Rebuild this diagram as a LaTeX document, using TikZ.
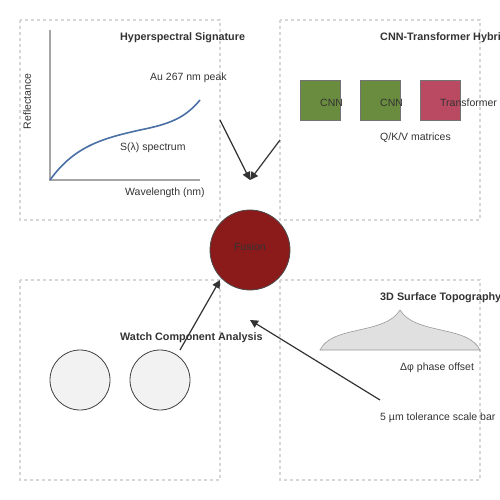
\documentclass[tikz,border=0pt]{standalone}
\usepackage{fontspec}
\setmainfont{Liberation Sans}
\usetikzlibrary{arrows.meta}
\definecolor{txt}{HTML}{333333}
\definecolor{panelc}{HTML}{D6D6D6}
\definecolor{cnng}{HTML}{6A8C3F}
\definecolor{trr}{HTML}{BA4A62}
\definecolor{fus}{HTML}{8B1A1A}
\definecolor{curveb}{HTML}{4A6FA5}
\definecolor{lgray}{HTML}{F2F2F2}
\definecolor{sgray}{HTML}{E0E0E0}
\tikzset{
  panel/.style={draw=panelc, line width=1.3pt, dash pattern=on 3pt off 3pt},
  lbl/.style={anchor=west, inner sep=0pt, yshift=-1.5pt, text=txt, font=\fontsize{10.5}{12}\selectfont},
  ttl/.style={lbl, font=\fontsize{10.8}{12}\selectfont\bfseries},
  blk/.style={draw=black!55, line width=0.8pt, minimum size=40pt, inner sep=0pt},
  conn/.style={draw=txt, line width=1.2pt, -{Triangle[length=8pt,width=8pt]}},
}
\begin{document}
\begin{tikzpicture}[x=1pt,y=-1pt]
\useasboundingbox (0,0) rectangle (500,500);
\clip (0,0) rectangle (500,500);
% panels
\draw[panel] (20,20) rectangle (220,220);
\draw[panel] (280,20) rectangle (480,220);
\draw[panel] (20,280) rectangle (220,480);
\draw[panel] (280,280) rectangle (480,480);
% panel 1
\draw[black!35, line width=1.3pt] (50,30) -- (50,180) -- (200,180);
\draw[curveb, line width=1.6pt] (50,180) .. controls (75,145) and (105,138) .. (140,130) .. controls (170,124) and (185,118) .. (200,100);
\node[ttl] (t1) at (120,36) {Hyperspectral Signature};
\node[lbl] (au) at (150,76) {Au 267 nm peak};
\node[lbl] (sl) at (120,146) {S(λ) spectrum};
\node[lbl] (wl) at (125,191) {Wavelength (nm)};
\node[lbl, anchor=center, rotate=90, yshift=0pt] (rf) at (27,100) {Reflectance};
% panel 2
\node[blk, fill=cnng] (c1) at (320,100) {};
\node[blk, fill=cnng] (c2) at (380,100) {};
\node[blk, fill=trr] (tr) at (440,100) {};
\node[ttl] (t2) at (380,36) {CNN-Transformer Hybrid};
\node[lbl] (l1) at (320,101) {CNN};
\node[lbl] (l2) at (380,101) {CNN};
\node[lbl] (l3) at (440,101) {Transformer};
\node[lbl] (qkv) at (380,136) {Q/K/V matrices};
% fusion
\node[circle, draw=black!70, line width=0.8pt, fill=fus, minimum size=80pt, inner sep=0pt] (fusion) at (250,250) {};
\node[text=txt, font=\fontsize{10.5}{12}\selectfont, inner sep=0pt] (fl) at (250,247) {Fusion};
% panel 3
\node[circle, draw=black!75, line width=0.8pt, fill=lgray, minimum size=60pt, inner sep=0pt] (w1) at (80,380) {};
\node[circle, draw=black!75, line width=0.8pt, fill=lgray, minimum size=60pt, inner sep=0pt] (w2) at (160,380) {};
\node[ttl] (t3) at (120,336) {Watch Component Analysis};
% panel 4
\draw[black!40, fill=sgray, line width=0.6pt] (320,350) .. controls (332,325) and (385,335) .. (400,310) .. controls (415,335) and (468,325) .. (480,350) -- cycle;
\node[ttl] (t4) at (380,296) {3D Surface Topography};
\node[lbl] (dp) at (400,366) {Δφ phase offset};
\node[lbl] (sb) at (380,416) {5 µm tolerance scale bar};
% connectors
\coordinate (a1) at (220,120);
\coordinate (a2) at (280,140);
\coordinate (m1) at (250,180);
\coordinate (a3) at (180,350);
\coordinate (m3) at (220,280);
\coordinate (a4) at (380,400);
\coordinate (m4) at (250,320);
\draw[conn] (a1) -- (m1);
\draw[conn] (a2) -- (m1);
\draw[conn] (a3) -- (m3);
\draw[conn] (a4) -- (m4);
\end{tikzpicture}
\end{document}
